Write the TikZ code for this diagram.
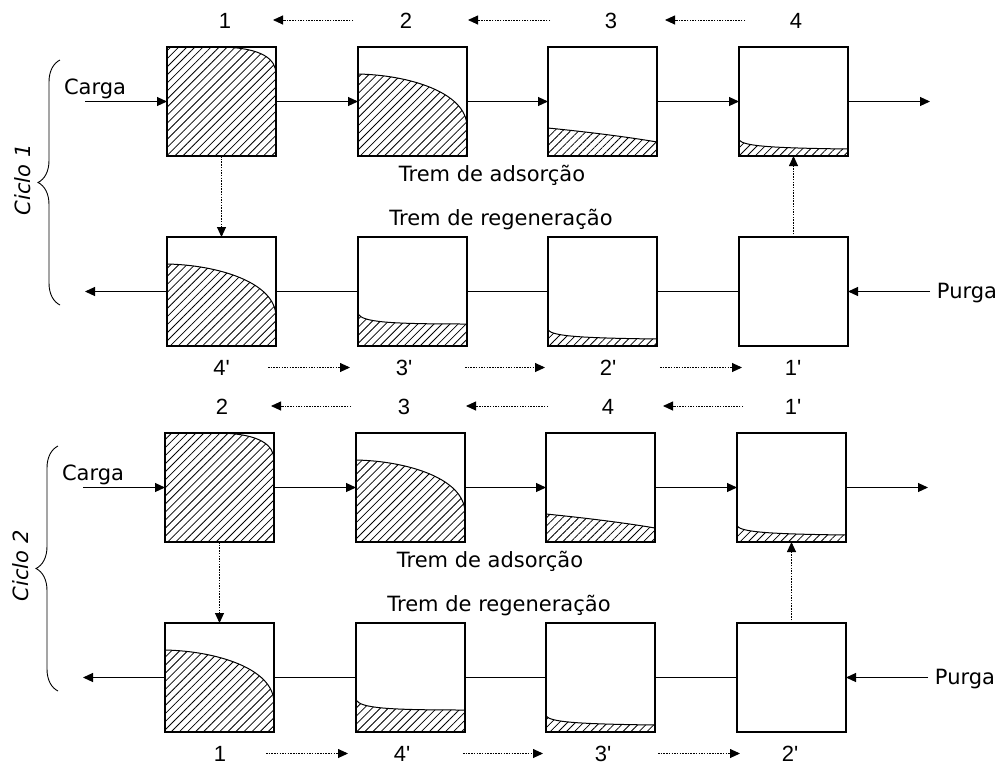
\documentclass[tikz,border=0pt]{standalone}
\usepackage{fontspec}
\setmainfont{DejaVu Sans}
\newfontfamily\numfont{Liberation Sans}
\usetikzlibrary{arrows.meta,patterns.meta,decorations.pathreplacing}
\tikzset{
  box/.style={draw,line width=1.1pt,minimum width=109pt,minimum height=109pt,inner sep=0pt,outer sep=0pt},
  flow/.style={line width=1.1pt,-{Triangle[length=10pt,width=9pt]}},
  link/.style={line width=1.1pt},
  dotarrow/.style={line width=0.9pt,dash pattern=on 1.5pt off 1.2pt,-{Triangle[length=10pt,width=9pt]}},
  hatch/.style={line width=1pt,pattern={Lines[angle=45,distance=5.7pt,line width=0.8pt]}},
  num/.style={inner sep=0pt},
  lbl/.style={font=\fontsize{21}{24}\selectfont,inner sep=0pt,anchor=base},
  bracestyle/.style={line width=0.9pt,decorate,decoration={brace,amplitude=22pt,aspect=0.5}},
}
\newcommand\numtxt[1]{{\numfont\fontsize{22}{24}\selectfont #1}}
\newcommand\hatchA[1]{\draw[hatch,shift={(#1.north west)}] (0,0) -- (55,0) .. controls (95,1) and (109,12) .. (109,27) -- (109,109) -- (0,109) -- cycle;}
\newcommand\hatchB[1]{\draw[hatch,shift={(#1.north west)}] (0,27) .. controls (50,28) and (109,45) .. (109,80) -- (109,109) -- (0,109) -- cycle;}
\newcommand\hatchC[1]{\draw[hatch,shift={(#1.north west)}] (0,81) .. controls (40,85) and (80,90) .. (109,95) -- (109,109) -- (0,109) -- cycle;}
\newcommand\hatchD[1]{\draw[hatch,shift={(#1.north west)}] (0,93) .. controls (5,99) and (30,101) .. (109,102) -- (109,109) -- (0,109) -- cycle;}
\newcommand\hatchE[1]{\draw[hatch,shift={(#1.north west)}] (0,77) .. controls (5,85) and (30,87) .. (109,87) -- (109,109) -- (0,109) -- cycle;}
% #1 prefix, #2 top labels (x/text), #3 bottom labels (x/text), #4 cycle text
\newcommand\adscycle[4]{%
  \foreach \x [count=\i] in {167,358,548,739} {
    \node[box] (#1t\i) at (\x+54.5,101.5) {};
    \node[box] (#1b\i) at (\x+54.5,291.5) {};
  }
  \hatchA{#1t1}\hatchB{#1t2}\hatchC{#1t3}\hatchD{#1t4}
  \hatchB{#1b1}\hatchE{#1b2}\hatchD{#1b3}
  % labels
  \foreach \x/\t [count=\i] in {#2} {\node[num] (#1u\i) at (\x,20.5) {\numtxt{\t}};}
  \foreach \x/\t [count=\i] in {#3} {\node[num] (#1d\i) at (\x,367.5) {\numtxt{\t}};}
  \foreach \s/\e [count=\i] in {353/273,550/468,745/665} {
    \coordinate (#1ua\i) at (\s,20); \coordinate (#1ub\i) at (\e,20);
    \draw[dotarrow] (#1ua\i) -- (#1ub\i);
  }
  \foreach \s/\e [count=\i] in {268/350,465/545,660/742} {
    \coordinate (#1da\i) at (\s,367.5); \coordinate (#1db\i) at (\e,367.5);
    \draw[dotarrow] (#1da\i) -- (#1db\i);
  }
  % flows
  \coordinate (#1in) at (85,101.5);
  \coordinate (#1out) at (930,101.5);
  \coordinate (#1rout) at (85,291.5);
  \coordinate (#1rin) at (930,291.5);
  \draw[flow] (#1in) -- (#1t1.west);
  \draw[flow] (#1t1.east) -- (#1t2.west);
  \draw[flow] (#1t2.east) -- (#1t3.west);
  \draw[flow] (#1t3.east) -- (#1t4.west);
  \draw[flow] (#1t4.east) -- (#1out);
  \draw[flow] (#1b1.west) -- (#1rout);
  \draw[link] (#1b2.west) -- (#1b1.east);
  \draw[link] (#1b3.west) -- (#1b2.east);
  \draw[link] (#1b4.west) -- (#1b3.east);
  \draw[flow] (#1rin) -- (#1b4.east);
  \draw[dotarrow] (#1t1.south) -- (#1b1.north);
  \draw[dotarrow] (#1b4.north) -- (#1t4.south);
  % texts
  \node[lbl] (#1carga) at (95,94) {Carga};
  \node[lbl] (#1purga) at (967,298) {Purga};
  \node[lbl] (#1ads) at (492,181) {Trem de adsorção};
  \node[lbl] (#1reg) at (501,225) {Trem de regeneração};
  % brace
  \coordinate (#1bra) at (60,305);
  \coordinate (#1brb) at (60,60);
  \draw[bracestyle] (#1bra) -- (#1brb);
  \node[font=\itshape\fontsize{21}{24}\selectfont,rotate=90,inner sep=0pt] (#1cyc) at (23,180) {#4};
}
\begin{document}
\begin{tikzpicture}[x=1pt,y=-1pt]
\useasboundingbox (0,0) rectangle (1004,766);
\adscycle{c}{225/1,406/2,611/3,796/4}{221.5/4',404/3',608/2',793/1'}{Ciclo 1}
\begin{scope}[shift={(-2,386)}]
\adscycle{k}{224/2,406/3,610/4,795/1'}{222/1,404/4',605/3',792/2'}{Ciclo 2}
\end{scope}
\end{tikzpicture}
\end{document}
